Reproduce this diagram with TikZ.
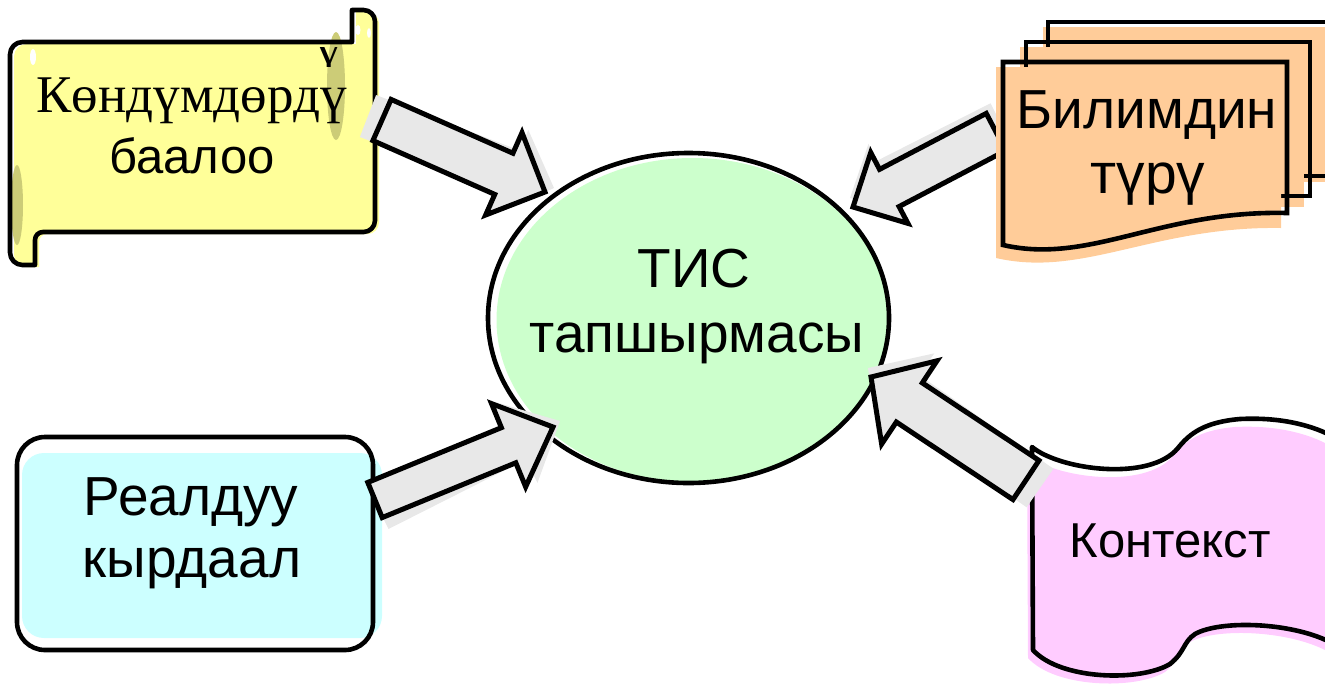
\documentclass[tikz,border=0pt]{standalone}
\usepackage{fontspec}
\setmainfont{Liberation Sans}
\newfontfamily\timesface{Liberation Serif}
\usetikzlibrary{calc,shapes.geometric}

\definecolor{scrollyellow}{HTML}{FFFF99}
\definecolor{scrollolive}{HTML}{CCCC77}
\definecolor{docorange}{HTML}{FFCC99}
\definecolor{boxcyan}{HTML}{CCFFFF}
\definecolor{tapepink}{HTML}{FFCCFF}
\definecolor{taskgreen}{HTML}{CCFFCC}
\definecolor{arrowgrey}{HTML}{E8E8E8}

% block arrow outline: style, tail, tip, half shaft width, half head width, head length
\newcommand\arrowpoly[6]{%
  \path[#1] ($(#2)!#4!90:(#3)$)
    -- ($(#3)!#6!(#2)!#4!-90:(#2)$)
    -- ($(#3)!#6!(#2)!#5!-90:(#2)$)
    -- (#3)
    -- ($(#3)!#6!(#2)!#5!90:(#2)$)
    -- ($(#3)!#6!(#2)!#4!90:(#2)$)
    -- ($(#2)!#4!-90:(#3)$) -- cycle;}
% grey block arrow with its offset shade: tail, tip, half shaft, half head, head length, shade tail, shade tip
\newcommand\blockarrow[7]{%
  \arrowpoly{fill=arrowgrey}{#6}{#7}{#3}{#4}{#5}%
  \arrowpoly{fill=arrowgrey, draw=black, line width=5pt, line join=miter}{#1}{#2}{#3}{#4}{#5}}

\begin{document}
\begin{tikzpicture}[x=1pt, y=-1pt,
  outline/.style={draw=black, line width=4.6pt, line join=round},
  lbl/.style={anchor=base, inner sep=0pt, text=black},
  big/.style={font=\fontsize{55pt}{55pt}\selectfont},
  scrollpath/.style={insert path={(200,42) [sharp corners] -- (352,42) -- (352,10)
      [rounded corners=11.5pt] -- (375,10) -- (375,232)
      [rounded corners=8pt] -- (35,232)
      [sharp corners] -- (35,265)
      [rounded corners=12.5pt] -- (10,265) -- (10,42)
      [rounded corners=8pt] -- cycle}},
  tapepath/.style={insert path={(1032,447)
      .. controls (1060,470) and (1150,482) .. (1178,448)
      .. controls (1190,433) and (1205,422) .. (1240,419)
      .. controls (1280,417) and (1310,425) .. (1330,435)
      -- (1330,642)
      .. controls (1290,622) and (1220,620) .. (1195,634)
      .. controls (1183,642) and (1185,652) .. (1170,664)
      .. controls (1140,682) and (1060,680) .. (1033,650)
      -- cycle}}]
\useasboundingbox (0,0) rectangle (1325,686);
\clip (0,0) rectangle (1325,686);

% skills scroll
\fill[scrollyellow, shift={(4,2)}, scrollpath];
\fill[scrollolive] (336,86) ellipse [x radius=9, y radius=54];
\fill[scrollolive] (17,205) ellipse [x radius=6, y radius=40];
\fill[white] (33,57) ellipse [x radius=3, y radius=8];
\fill[white] (358,30) ellipse [x radius=2.5, y radius=5];
\fill[white] (369,33) ellipse [x radius=2, y radius=5];
\begin{scope}
  \clip (300,47) rectangle (352,66);
  \node[lbl, font=\timesface\fontsize{50pt}{50pt}\selectfont] (skillsx) at (329,65) {\smash{ү}};
\end{scope}
\draw[outline, scrollpath];

% real situation box
\fill[boxcyan, rounded corners=22pt] (22,453) rectangle (382,638);
\draw[outline, rounded corners=28pt] (17,437) rectangle (373,650);

% context tape
\fill[tapepink, shift={(-5,8)}, tapepath];
\draw[outline, tapepath];

% central task ellipse
\node[ellipse, fill=taskgreen, minimum width=392pt, minimum height=324pt, inner sep=0pt] (taskfill) at (692.5,320) {};
\node[ellipse, draw=black, line width=4.6pt, minimum width=401pt, minimum height=330pt, inner sep=0pt] (task) at (688.5,318) {};

% arrow from the knowledge documents (passes under them)
\coordinate (a2t) at (996,132);
\coordinate (a2h) at (853,207);
\coordinate (a2st) at (1000,122);
\coordinate (a2sh) at (850,198);
\blockarrow{a2t}{a2h}{21pt}{40pt}{41pt}{a2st}{a2sh}

% knowledge documents stack
\fill[docorange] (1043,27) rectangle (1340,182);
\draw[outline, line join=miter] (1048,22) rectangle (1340,176);
\fill[docorange] (1020,47) rectangle (1304,207);
\draw[outline, line join=miter] (1026,42) rectangle (1310,196);
\fill[docorange] (996,67) -- (1281,67) -- (1281,228)
  .. controls (1154,226) and (1083,278) .. (996,258) -- cycle;
\draw[outline, line join=miter] (1003,62) -- (1287,62) -- (1287,213)
  .. controls (1160,210) and (1090,265) .. (1003,245) -- cycle;

% remaining arrows into the task
\coordinate (a1t) at (382,120);
\coordinate (a1h) at (545,192);
\coordinate (a1st) at (368,116);
\coordinate (a1sh) at (554,188);
\blockarrow{a1t}{a1h}{22.5pt}{45pt}{45pt}{a1st}{a1sh}

\coordinate (a3t) at (375,500);
\coordinate (a3h) at (553,427);
\coordinate (a3st) at (380,512);
\coordinate (a3sh) at (560,421);
\blockarrow{a3t}{a3h}{19pt}{45pt}{48pt}{a3st}{a3sh}

\coordinate (a4t) at (1026,480);
\coordinate (a4h) at (871,377);
\coordinate (a4st) at (1040,488);
\coordinate (a4sh) at (868,368);
\blockarrow{a4t}{a4h}{23.5pt}{50pt}{46pt}{a4st}{a4sh}

% labels
\node[lbl, font=\timesface\fontsize{53pt}{53pt}\selectfont] (skills1) at (191.5,112) {Көндүмдөрдү};
\node[lbl, font=\fontsize{49pt}{49pt}\selectfont] (skills2) at (192,173) {баалоо};
\node[lbl, big] (task1) at (694,287) {ТИС};
\node[lbl, big] (task2) at (697,352) {тапшырмасы};
\node[lbl, big] (know1) at (1147,128) {Билимдин};
\node[lbl, font=\fontsize{57pt}{57pt}\selectfont] (know2) at (1148,193) {түрү};
\node[lbl, big] (real1) at (191,515) {Реалдуу};
\node[lbl, big] (real2) at (192,577) {кырдаал};
\node[lbl, font=\fontsize{49pt}{49pt}\selectfont] (context) at (1170,557) {Контекст};
\end{tikzpicture}
\end{document}
